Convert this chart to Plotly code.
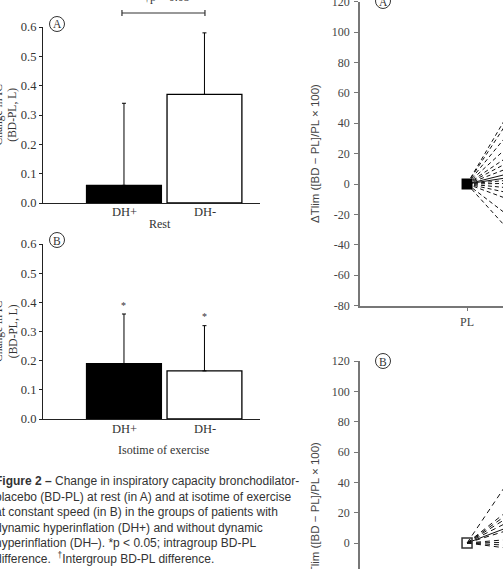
import plotly.graph_objects as go

W, H = 503, 569

# ---------------- data ----------------
groups = ["DH+", "DH-"]
rest_mean = [0.06, 0.37]
rest_err = [0.28, 0.21]
iso_mean = [0.19, 0.165]
iso_err = [0.17, 0.155]
bar_colors = ["#000000", "#ffffff"]

conditions = ["PL", "BD"]
cond_pos = [1, 2]
# BD values of dTlim (PL is always 0)
tlim_a = [120, 108, 86, 64, 47, 37, 27, 17.5, 11, 6.5, 1, -6.5, -15, -26, -54, -78]
tlim_a_solid = [17.5, 11]
tlim_b = [105, 56, 50, 44, 36, 27, 22, 6, 1, -4, -9]
tlim_b_solid = [27]

ic_ticks = [0.0, 0.1, 0.2, 0.3, 0.4, 0.5, 0.6]
tlim_ticks = [-80, -60, -40, -20, 0, 20, 40, 60, 80, 100, 120]
tlim_ticktext = [str(t) for t in tlim_ticks]


def px(x):
    return x / W


def py(y):
    return 1 - y / H


SERIF = "Liberation Serif"
SANS = "Liberation Sans"
TXT = "#333333"

fig = go.Figure()

# ---------------- bar charts ----------------
for mean, err, ax in [(rest_mean, rest_err, "1"), (iso_mean, iso_err, "2")]:
    fig.add_trace(go.Bar(
        x=[0, 1], y=mean, width=0.93,
        marker=dict(color=bar_colors, line=dict(color="#000000", width=1.3)),
        error_y=dict(type="data", array=err, arrayminus=[0, 0], symmetric=False,
                     color="#000000", thickness=1, width=2),
        xaxis="x" if ax == "1" else "x2", yaxis="y" if ax == "1" else "y2",
        showlegend=False, hoverinfo="skip"))

# ---------------- ΔTlim line plots ----------------
for vals, solid, xa, ya, dash in [(tlim_a, tlim_a_solid, "x3", "y3", "4px,3px"),
                                   (tlim_b, tlim_b_solid, "x4", "y4", "5px,4px")]:
    for v in vals:
        fig.add_trace(go.Scatter(
            x=cond_pos, y=[0, v], mode="lines",
            line=dict(color="#111111", width=1.0,
                      dash="solid" if v in solid else dash),
            xaxis=xa, yaxis=ya, showlegend=False, hoverinfo="skip"))

fig.add_trace(go.Scatter(x=[cond_pos[0]], y=[0], mode="markers",
                         marker=dict(symbol="square", size=11, color="#000000"),
                         xaxis="x3", yaxis="y3", showlegend=False, cliponaxis=False))
fig.add_trace(go.Scatter(x=[cond_pos[0]], y=[0], mode="markers",
                         marker=dict(symbol="square-open", size=10, color="#333333",
                                     line=dict(width=1.5, color="#333333")),
                         xaxis="x4", yaxis="y4", showlegend=False, cliponaxis=False))

# ---------------- axes ----------------
bar_x = dict(range=[-1.006, 1.69], tickvals=[0, 1], ticktext=groups, ticks="",
             showticklabels=False, automargin=False,
             showline=True, linecolor="#222222", linewidth=1.2, showgrid=False,
             zeroline=False, domain=[px(43), px(260)], fixedrange=True)
bar_y = dict(range=[0, 0.6], tickvals=ic_ticks, tickformat=".1f", ticks="outside",
             ticklen=3, tickcolor="#222222", showline=True, linecolor="#222222",
             linewidth=1.2, showgrid=False, zeroline=False, automargin=False,
             ticklabeloverflow="allow",
             tickfont=dict(family=SERIF, size=12.5, color=TXT), fixedrange=True)

line_x = dict(range=[0, 1.336], tickvals=[1], ticktext=["PL"], ticks="outside",
              ticklen=4, tickcolor="#777777", showline=True, linecolor="#777777",
              linewidth=1.5, showgrid=False, zeroline=False, automargin=False,
              tickfont=dict(family=SERIF, size=12, color="#444444"),
              domain=[px(360), 1], fixedrange=True)
line_y = dict(tickvals=tlim_ticks, ticktext=tlim_ticktext, ticks="outside", ticklen=4,
              tickcolor="#777777",
              showline=True, linecolor="#777777", linewidth=1.5, showgrid=False,
              zeroline=False, automargin=False, ticklabeloverflow="allow",
              tickfont=dict(family=SERIF, size=12, color="#444444"),
              ticklabelstandoff=2, fixedrange=True)

fig.update_layout(
    width=W, height=H, margin=dict(l=0, r=0, t=0, b=0, pad=0, autoexpand=False),
    paper_bgcolor="white", plot_bgcolor="white", showlegend=False,
    xaxis=dict(bar_x, anchor="y"),
    yaxis=dict(bar_y, anchor="x", domain=[py(203), py(27)]),
    xaxis2=dict(bar_x, anchor="y2"),
    yaxis2=dict(bar_y, anchor="x2", domain=[py(419), py(244)]),
    xaxis3=dict(line_x, anchor="y3"),
    yaxis3=dict(line_y, anchor="x3", range=[-80, 120], domain=[py(305.6), py(1.6)]),
    xaxis4=dict(line_x, anchor="y4", showline=False, ticks="", showticklabels=False),
    yaxis4=dict(line_y, anchor="x4", range=[-17.14, 120], domain=[0, py(361)]),
)

ann = []
shapes = []


def label(text, x, y, size=12, family=SERIF, color=TXT, **kw):
    d = dict(text=text, xref="paper", yref="paper", x=px(x), y=py(y),
             xanchor="center", yanchor="middle", showarrow=False,
             font=dict(family=family, size=size, color=color))
    d.update(kw)
    ann.append(d)


def circle_label(cx, cy, letter):
    r = 7.5
    shapes.append(dict(type="circle", xref="paper", yref="paper",
                       x0=px(cx - r), x1=px(cx + r), y0=py(cy + r), y1=py(cy - r),
                       line=dict(color="#333333", width=1)))
    label(letter, cx, cy + 0.5, size=11.5)


circle_label(57, 24, "A")
circle_label(57, 240, "B")
circle_label(383, 1, "A")
circle_label(383, 361, "B")

# y-axis titles of bar charts
for cy in [115, 331.5]:
    label("Change in IC<br>(BD-PL, L)", 5.5, cy, size=11.5, textangle=-90)

# bar group tick labels
for ty in [212, 429]:
    for gx, g in zip([124, 204.5], groups):
        label(g, gx, ty, size=12.5)

# group labels
label("Rest", 160, 224)
label("Isotime of exercise", 163, 450)

# significance bracket (panel A)
shapes.append(dict(type="line", xref="x", yref="paper", x0=-0.025, x1=1.006,
                   y0=py(13), y1=py(13), line=dict(color="#333333", width=1.2)))
for xe in [-0.025, 1.006]:
    shapes.append(dict(type="line", xref="x", yref="paper", x0=xe, x1=xe,
                       y0=py(10), y1=py(16), line=dict(color="#333333", width=1.2)))
label("†p < 0.05", 167, 6.5, yanchor="bottom")

# asterisks
for xa, ya, xv, yv in [("x", "y", 1, 0.617), ("x2", "y2", 0, 0.388), ("x2", "y2", 1, 0.35)]:
    ann.append(dict(text="*", xref=xa, yref=ya, x=xv, y=yv, xanchor="center",
                    yanchor="middle", showarrow=False,
                    font=dict(family=SERIF, size=10, color=TXT)))

# ΔTlim titles
for cy in [154, 512]:
    label("ΔTlim ([BD − PL]/PL × 100)", 315, cy, size=11.5, family=SANS,
          color="#444444", textangle=-90)

# partially visible -20 label at the bottom of panel B
label("-20", 350, 573, color="#444444", xanchor="right")

# caption
caption = ("<b>Figure 2 –</b> Change in inspiratory capacity bronchodilator-<br>"
           "placebo (BD-PL) at rest (in A) and at isotime of exercise<br>"
           "at constant speed (in B) in the groups of patients with<br>"
           "dynamic hyperinflation (DH+) and without dynamic<br>"
           "hyperinflation (DH–). *p < 0.05; intragroup BD-PL<br>"
           "difference.  <sup>†</sup>Intergroup BD-PL difference.")
label(caption, -7, 520, family=SANS, xanchor="left", align="left")

fig.update_layout(annotations=ann, shapes=shapes)
fig.write_html("out.html")
